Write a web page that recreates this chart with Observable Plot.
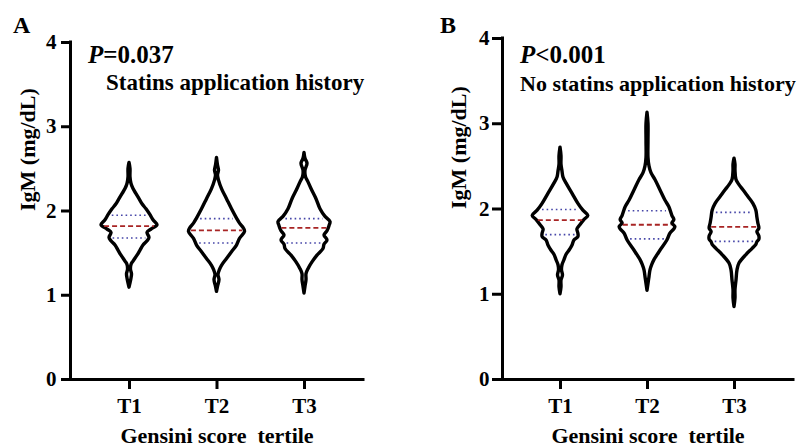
<!DOCTYPE html>
<html><head><meta charset="utf-8">
<script src="https://cdn.jsdelivr.net/npm/d3@7"></script>
<script src="https://cdn.jsdelivr.net/npm/@observablehq/plot@0.6"></script>
<style>
body{margin:0;background:#fff;}
#wrap{position:relative;width:809px;height:446px;overflow:hidden;background:#fff;}
#wrap svg{position:absolute;top:0;}
</style></head><body><div id="wrap"></div>
<script>
// ---------- data ----------
const categories = ["T1", "T2", "T3"];
const yTicks = [0, 1, 2, 3, 4];
const panelLetters = ["A", "B"];
const pValues = ["=0.037", "<0.001"];
const subtitles = ["Statins application history", "No statins application history"];
const yTitle = "IgM (mg/dL)";
const xTitle = "Gensini score  tertile";

// medians and quartiles (IgM, mg/dL) per tertile
const medianA = [1.82, 1.77, 1.80];
const q1A = [1.68, 1.62, 1.62];
const q3A = [1.95, 1.91, 1.91];
const medianB = [1.87, 1.815, 1.79];
const q1B = [1.70, 1.65, 1.62];
const q3B = [1.995, 1.98, 1.96];

// violin profiles: [IgM value, relative density (half width)]
const violinA_T1 = [[1.09,0],[1.14,1],[1.20,2],[1.25,2.5],[1.30,1.5],[1.36,2],[1.40,4],[1.47,8],[1.53,11],[1.59,14],[1.64,18],[1.68,20],[1.74,18],[1.78,22],[1.83,28],[1.89,24],[1.95,21],[2.02,17],[2.08,13],[2.14,10],[2.20,7],[2.26,4],[2.32,2],[2.40,1],[2.50,1],[2.57,0]];
const violinA_T2 = [[1.04,0],[1.10,1],[1.18,2.5],[1.24,1.5],[1.30,3],[1.35,5],[1.43,10],[1.51,15],[1.59,20],[1.67,23],[1.75,28],[1.79,27],[1.85,23],[1.91,20],[2.02,15],[2.14,10],[2.26,5],[2.36,2],[2.42,1],[2.48,2],[2.54,1],[2.63,0]];
const violinA_T3 = [[1.02,0],[1.10,1],[1.18,2],[1.25,2],[1.31,4],[1.39,8],[1.47,13],[1.55,19],[1.60,20],[1.65,23],[1.71,20],[1.76,23],[1.82,25],[1.87,26],[1.93,21],[2.02,16],[2.14,12],[2.26,7],[2.34,4],[2.40,1.5],[2.48,1],[2.56,3],[2.62,1],[2.69,0]];
const violinB_T1 = [[1.00,0],[1.08,1],[1.16,1],[1.22,2.5],[1.28,1.5],[1.34,2],[1.40,4],[1.46,6],[1.51,9],[1.57,12],[1.63,14],[1.67,18],[1.71,18],[1.76,17],[1.81,20],[1.87,24],[1.92,28],[1.98,23],[2.06,18],[2.18,12],[2.30,6],[2.37,3],[2.44,2],[2.52,1],[2.62,1],[2.72,0]];
const violinB_T2 = [[1.04,0],[1.12,1],[1.20,2],[1.28,3],[1.35,5],[1.40,7],[1.51,13],[1.63,20],[1.71,23],[1.76,27],[1.79,28],[1.83,25],[1.87,27],[1.92,25],[2.02,22],[2.10,18],[2.22,13],[2.34,8],[2.42,4],[2.50,2],[2.60,1],[2.80,1],[3.00,1],[3.13,0]];
const violinB_T3 = [[0.85,0],[0.95,1],[1.05,1],[1.16,2],[1.28,3],[1.36,5],[1.46,12],[1.53,18],[1.58,22],[1.61,23],[1.64,25],[1.68,25],[1.73,23],[1.77,25],[1.83,24],[1.90,23],[1.98,22],[2.06,19],[2.14,14],[2.22,9],[2.28,5],[2.34,2],[2.45,1],[2.52,1],[2.59,0]];

// ---------- build ----------
const FONT = "'Liberation Serif','Times New Roman',serif";
const densityToX = 1 / 87.5; // relative density -> category units

function interp(profile, v) {
  for (let i = 1; i < profile.length; i++) {
    const [a, wa] = profile[i - 1], [b, wb] = profile[i];
    if (v >= a && v <= b) return wa + (wb - wa) * (v - a) / (b - a);
  }
  return 0;
}

function panel(idx, violins, med, q1, q3, opts) {
  const rows = [];
  violins.forEach((prof, i) => prof.forEach(([v, w]) => rows.push({cat: i + 1, v, w})));
  const stats = [];
  violins.forEach((prof, i) => {
    stats.push({cat: i + 1, v: med[i], kind: "med", w: interp(prof, med[i]) * 0.93});
    stats.push({cat: i + 1, v: q1[i], kind: "q", w: interp(prof, q1[i]) * 0.82});
    stats.push({cat: i + 1, v: q3[i], kind: "q", w: interp(prof, q3[i]) * 0.82});
  });
  const med_ = stats.filter(d => d.kind === "med");
  const q_ = stats.filter(d => d.kind === "q");
  const svg = Plot.plot({
    width: opts.width, height: 446,
    marginLeft: opts.ml, marginRight: opts.mr, marginTop: opts.mt, marginBottom: 67,
    style: {fontFamily: FONT, fontWeight: "bold", fontSize: "21px", color: "black", background: "white", overflow: "visible"},
    x: {domain: opts.xdom},
    y: {domain: [0, 4]},
    marks: [
      Plot.axisY({ticks: yTicks, tickFormat: d => String(d), tickSize: opts.ytick, tickPadding: opts.ypad, strokeWidth: 3, label: null, fontSize: 21}),
      Plot.axisX({ticks: [1, 2, 3], tickFormat: d => categories[d - 1], tickSize: 10, tickPadding: 9, strokeWidth: 3, label: null, fontSize: 21}),
      Plot.ruleX([opts.xdom[0]], {strokeWidth: 3, strokeLinecap: "square"}),
      Plot.ruleY([0], {strokeWidth: 3, strokeLinecap: "square"}),
      Plot.areaX(rows, {y: "v", x1: d => d.cat - d.w * densityToX, x2: d => d.cat + d.w * densityToX, z: "cat",
        fill: "white", stroke: "black", strokeWidth: 3.4, strokeLinejoin: "round", curve: "catmull-rom"}),
      Plot.ruleY(q_, {y: "v", x1: d => d.cat - d.w * densityToX, x2: d => d.cat + d.w * densityToX,
        stroke: "#4646a8", strokeWidth: 1.6, strokeDasharray: "1.6,3"}),
      Plot.ruleY(med_, {y: "v", x1: d => d.cat - d.w * densityToX, x2: d => d.cat + d.w * densityToX,
        stroke: "#a82424", strokeWidth: 1.8, strokeDasharray: "5,3"}),
      Plot.text([yTitle], {frameAnchor: "left", rotate: -90, dx: opts.ytdx, fontSize: 22, fontWeight: "bold"}),
      Plot.text([xTitle], {frameAnchor: "bottom", dy: 63, fontSize: 22, fontWeight: "bold"})
    ]
  });
  svg.style.left = opts.left + "px";
  const s = d3.select(svg);
  const t = (x, y, size) => s.append("text").attr("x", x).attr("y", y).attr("font-size", size)
    .attr("font-weight", "bold").attr("font-family", FONT).attr("text-anchor", "start");
  t(opts.letterX, 33, 24).text(panelLetters[idx]);
  const p = t(opts.pX, 63, 25);
  p.append("tspan").attr("font-style", "italic").text("P");
  p.append("tspan").text(pValues[idx]);
  t(opts.subX, opts.subY, opts.subSize).text(subtitles[idx]);
  return svg;
}

const wrap = document.getElementById("wrap");
wrap.appendChild(panel(0, [violinA_T1, violinA_T2, violinA_T3], medianA, q1A, q3A,
  {left: 0, width: 405, ml: 70, mr: 42, mt: 42, xdom: [1 - 59 / 87.5, 3 + 59 / 87.5], ytick: 9, ypad: 5, ytdx: -43,
   letterX: 13, pX: 88, subX: 106, subY: 90, subSize: 23}));
wrap.appendChild(panel(1, [violinB_T1, violinB_T2, violinB_T3], medianB, q1B, q3B,
  {left: 405, width: 404, ml: 97, mr: 16, mt: 38, xdom: [1 - 58 / 87, 3 + 59 / 87], ytick: 10, ypad: 3, ytdx: -44,
   letterX: 35, pX: 115, subX: 115, subY: 91, subSize: 22}));
</script></body></html>
